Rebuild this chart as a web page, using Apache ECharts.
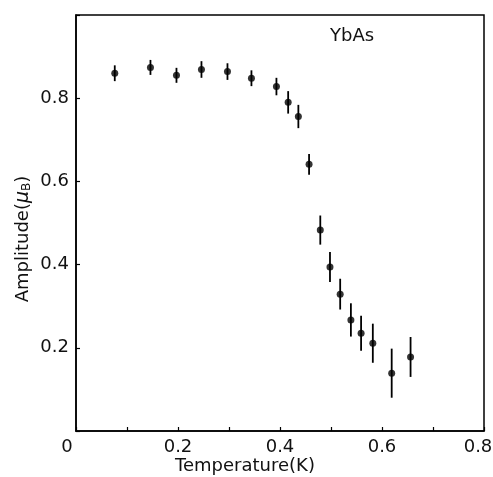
<!DOCTYPE html>
<html><head><meta charset="utf-8">
<script src="https://cdn.jsdelivr.net/npm/echarts@6/dist/echarts.min.js"></script>
<style>html,body{margin:0;padding:0;background:#fff}#c{width:493px;height:477px}</style>
</head><body><div id="c"></div>
<script>
var temps = [0.076, 0.146, 0.197, 0.246, 0.297, 0.344, 0.393, 0.416, 0.436, 0.457, 0.479, 0.498, 0.518, 0.539, 0.559, 0.582, 0.619, 0.656];
var amps  = [0.860, 0.874, 0.855, 0.869, 0.864, 0.848, 0.828, 0.790, 0.756, 0.641, 0.483, 0.394, 0.329, 0.267, 0.235, 0.211, 0.139, 0.178];
var errs  = [0.019, 0.018, 0.018, 0.020, 0.020, 0.019, 0.021, 0.027, 0.028, 0.025, 0.035, 0.036, 0.037, 0.040, 0.042, 0.047, 0.059, 0.048];
var xTickLabels = ['0', '0.2', '0.4', '0.6', '0.8'];
var yTickLabels = ['0.2', '0.4', '0.6', '0.8'];

var pts = temps.map(function(t, i){ return [t, amps[i]]; });
var bars = temps.map(function(t, i){ return [t, amps[i] - errs[i], amps[i] + errs[i]]; });
var font = 'DejaVu Sans';
var chart = echarts.init(document.getElementById('c'));
chart.setOption({
  animation: false,
  backgroundColor: '#fff',
  grid: {left: 76, right: 9, top: 15, bottom: 46, show: true, borderColor: '#000', borderWidth: 1.5,
         containLabel: false, outerBoundsMode: 'none'},
  xAxis: {
    type: 'value', min: 0, max: 0.8, interval: 0.1,
    axisLine: {lineStyle: {color: '#000', width: 1.5}},
    axisTick: {inside: true, length: 4, lineStyle: {color: '#000', width: 1.2}},
    splitLine: {show: false},
    axisLabel: {
      fontFamily: font, fontSize: 18, color: '#111', margin: 7,
      formatter: function(v){
        var s = (Math.round(v * 10) / 10).toString();
        if (s === '0') return '{z|0}';
        if (s === '0.8') return '{e|0.8}';
        return xTickLabels.indexOf(s) >= 0 ? s : '';
      },
      rich: {
        z: {fontFamily: font, fontSize: 18, color: '#111', padding: [0, 18, 0, 0]},
        e: {fontFamily: font, fontSize: 18, color: '#111', padding: [0, 12, 0, 0]}
      }
    }
  },
  yAxis: {
    type: 'value', min: 0, max: 1.0, interval: 0.2,
    axisLine: {lineStyle: {color: '#000', width: 1.5}},
    axisTick: {inside: true, length: 4, lineStyle: {color: '#000', width: 1.2}},
    splitLine: {show: false},
    axisLabel: {
      fontFamily: font, fontSize: 18, color: '#111', margin: 7,
      formatter: function(v){
        var s = (Math.round(v * 10) / 10).toFixed(1);
        return yTickLabels.indexOf(s) >= 0 ? s : '';
      }
    }
  },
  graphic: [{
    type: 'text', left: 330, top: 27,
    style: {text: 'YbAs', fontFamily: font, fontSize: 18, fill: '#111'}
  }, {
    type: 'text', x: 245, y: 466,
    style: {text: 'Temperature(K)', fontFamily: font, fontSize: 18, fill: '#111', align: 'center', verticalAlign: 'middle'}
  }, {
    type: 'text', x: 23, y: 239, rotation: Math.PI / 2,
    style: {
      text: '{n|Amplitude(}{m|μ}{s|B}{n|)}', align: 'center', verticalAlign: 'middle',
      rich: {
        n: {fontFamily: font, fontSize: 18, fill: '#111'},
        m: {fontFamily: font, fontSize: 19, fontStyle: 'italic', fill: '#111'},
        s: {fontFamily: font, fontSize: 12, fill: '#111', padding: [7, 0, 0, 0]}
      }
    }
  }],
  series: [{
    type: 'custom',
    data: bars,
    renderItem: function(params, api){
      var x = api.value(0);
      var lo = api.coord([x, api.value(1)]);
      var hi = api.coord([x, api.value(2)]);
      return {type: 'line', shape: {x1: lo[0], y1: lo[1], x2: hi[0], y2: hi[1]},
              style: {stroke: '#000', lineWidth: 1.8}};
    },
    z: 2
  }, {
    type: 'scatter',
    data: pts,
    symbol: 'circle', symbolSize: 7,
    itemStyle: {color: '#000'},
    z: 3
  }]
});
</script></body></html>
